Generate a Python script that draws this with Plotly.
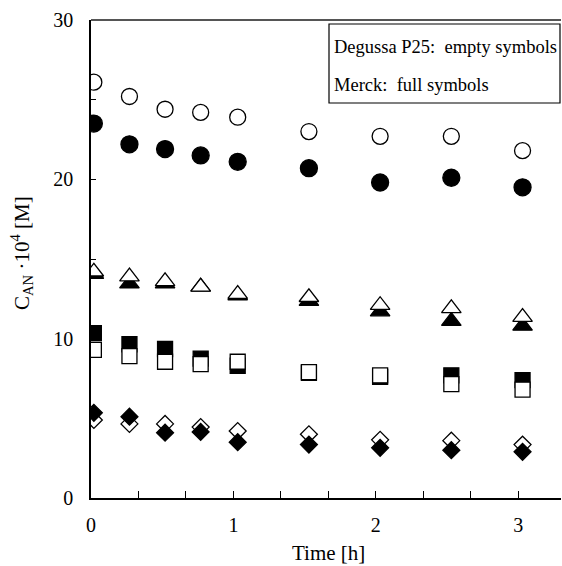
import plotly.graph_objects as go

# time [h]
t = [0.02, 0.27, 0.52, 0.77, 1.03, 1.53, 2.03, 2.53, 3.03]

# C_AN * 10^4 [M]; "p25" = Degussa P25 (empty symbols), "merck" = Merck (full symbols)
circ_p25 = [26.1, 25.2, 24.4, 24.2, 23.9, 23.0, 22.7, 22.7, 21.8]
circ_merck = [23.5, 22.2, 21.9, 21.5, 21.1, 20.7, 19.8, 20.1, 19.5]
tri_p25 = [14.2, 13.9, 13.6, 13.25, 12.8, 12.6, 12.1, 11.9, 11.35]
tri_merck = [14.05, 13.45, 13.45, 13.25, 12.7, 12.35, 11.7, 11.1, 10.8]
sq_p25 = [9.3, 8.9, 8.55, 8.4, 8.55, 7.9, 7.7, 7.15, 6.8]
sq_merck = [10.35, 9.65, 9.35, 8.75, 8.3, 7.85, 7.6, 7.7, 7.4]
dia_p25 = [4.9, 4.65, 4.65, 4.45, 4.2, 4.0, 3.65, 3.6, 3.35]
dia_merck = [5.35, 5.1, 4.1, 4.15, 3.5, 3.35, 3.15, 3.0, 2.9]

x_ticks = [0, 1, 2, 3]
y_ticks = [0, 10, 20, 30]

FONT = "Liberation Serif, Times New Roman, serif"

fig = go.Figure()

def add(y, symbol, size, filled):
    fig.add_trace(go.Scatter(
        x=t, y=y, mode="markers",
        marker=dict(symbol=symbol, size=size,
                    color="black" if filled else "white",
                    line=dict(color="black", width=1.3)),
        showlegend=False, hoverinfo="x+y"))

add(circ_merck, "circle", 17, True)
add(circ_p25, "circle", 16, False)
add(tri_merck, "triangle-up", 17, True)
add(tri_p25, "triangle-up", 17, False)
add(sq_merck, "square", 15, True)
add(sq_p25, "square", 15, False)
add(dia_p25, "diamond", 13, False)
add(dia_merck, "diamond", 13, True)

fig.update_layout(
    width=562, height=566,
    margin=dict(l=91, r=1, t=20, b=68),
    paper_bgcolor="white", plot_bgcolor="white",
    font=dict(family=FONT, size=20, color="black"),
    xaxis=dict(range=[0, 3.30], tickvals=x_ticks, ticks="inside", ticklen=7,
               tickwidth=1, tickcolor="black",
               minor=dict(dtick=1/3, tick0=0, ticks="inside", ticklen=7,
                          tickwidth=1, tickcolor="black"),
               showline=True, linecolor="black", linewidth=1.5,
               showgrid=False, zeroline=False, layer="below traces",
               ticklabelstandoff=8, tickfont=dict(size=20)),
    yaxis=dict(range=[0, 30], tickvals=y_ticks, ticks="inside", ticklen=5,
               tickwidth=1, tickcolor="black",
               minor=dict(dtick=5, tick0=0, ticks="inside", ticklen=5,
                          tickwidth=1, tickcolor="black"),
               showline=True, linecolor="black", linewidth=1.5,
               showgrid=False, zeroline=False, layer="below traces",
               ticklabelstandoff=12, tickfont=dict(size=20)),
    shapes=[
        dict(type="line", xref="paper", yref="paper", x0=0, x1=1, y0=1, y1=1,
             line=dict(color="#555555", width=2)),
        dict(type="rect", xref="paper", yref="paper",
             x0=(329 - 91) / 470, x1=(560 - 91) / 470,
             y0=(498 - 103) / 478, y1=(498 - 24) / 478,
             line=dict(color="black", width=1.2), fillcolor="white"),
    ],
    annotations=[
        dict(text="Degussa P25:\u00a0 empty symbols", xref="paper", yref="paper",
             x=(332 - 91) / 470, y=(498 - 47) / 478, xanchor="left", yanchor="middle",
             showarrow=False, font=dict(size=18.5)),
        dict(text="Merck:\u00a0 full symbols", xref="paper", yref="paper",
             x=(332 - 91) / 470, y=(498 - 85) / 478, xanchor="left", yanchor="middle",
             showarrow=False, font=dict(size=18.5)),
        dict(text="Time [h]", xref="paper", yref="paper",
             x=(328 - 91) / 470, y=(498 - 553) / 478, xanchor="center", yanchor="middle",
             showarrow=False, font=dict(size=21)),
        dict(text="C<sub>AN</sub> ·10<sup>4</sup> [M]", xref="paper", yref="paper",
             x=(21 - 91) / 470, y=(498 - 253) / 478, xanchor="center", yanchor="middle",
             textangle=-90, showarrow=False, font=dict(size=21)),
    ],
)

fig.write_html("out.html")
